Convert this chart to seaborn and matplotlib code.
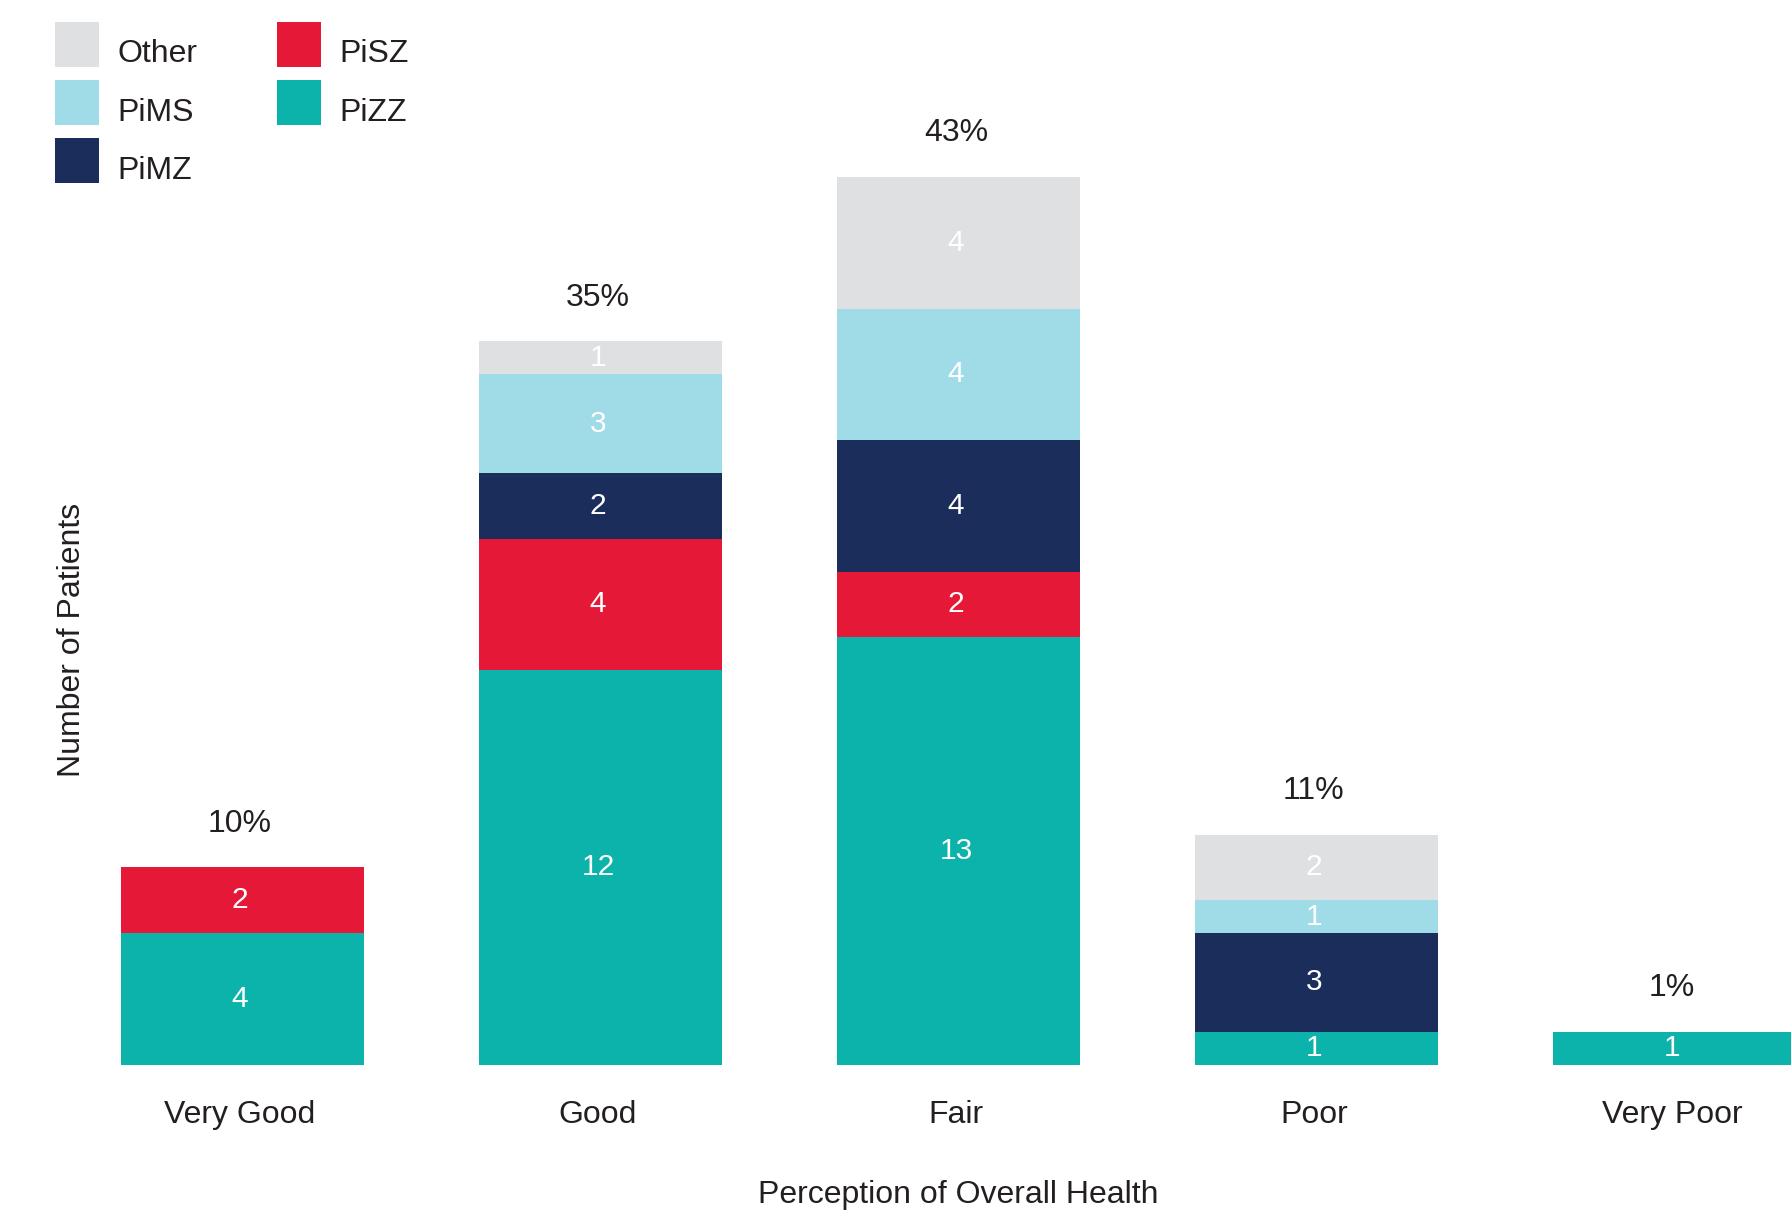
import numpy as np
import pandas as pd
import matplotlib
matplotlib.use("Agg")
import matplotlib.pyplot as plt
import matplotlib.transforms as mtransforms
from matplotlib.patches import Patch, Rectangle
from matplotlib.legend_handler import HandlerPatch
import seaborn as sns

categories = ["Very Good", "Good", "Fair", "Poor", "Very Poor"]
pizz = [4, 12, 13, 1, 1]
pisz = [2, 4, 2, 0, 0]
pimz = [0, 2, 4, 3, 0]
pims = [0, 3, 4, 1, 0]
other = [0, 1, 4, 2, 0]
pct_labels = ["10%", "35%", "43%", "11%", "1%"]

series_names = ["PiZZ", "PiSZ", "PiMZ", "PiMS", "Other"]
series_vals = [pizz, pisz, pimz, pims, other]
colors = {"PiZZ": "#0BB3AA", "PiSZ": "#E51937", "PiMZ": "#1B2D5A",
          "PiMS": "#A0DBE8", "Other": "#DFE0E2"}

sns.set_style("white")
plt.rcParams["font.family"] = ["Liberation Sans", "DejaVu Sans"]

W, H = 1791, 1220
fig = plt.figure(figsize=(W / 100, H / 100), dpi=100)
base_px = 1064.6
unit_px = 32.87
ax = fig.add_axes([0, (H - base_px) / H, 1, base_px / H])

cum = np.cumsum(np.array(series_vals), axis=0)
# draw from top layer down so each lower cumulative bar overlays
for i in range(len(series_names) - 1, -1, -1):
    df = pd.DataFrame({"cat": categories, "val": cum[i]})
    sns.barplot(data=df, x="cat", y="val", order=categories,
                color=colors[series_names[i]], saturation=1, width=0.68,
                linewidth=0, ax=ax)

txt_dx = -2  # points
TXT = "#231F20"

# segment value labels
for i, name in enumerate(series_names):
    for j, v in enumerate(series_vals[i]):
        if v > 0:
            y = cum[i][j] - v / 2
            ax.annotate(str(v), (j, y), xytext=(txt_dx, 0),
                        textcoords="offset points", ha="center", va="center",
                        color="white", fontsize=21.5)

# percentage labels
totals = cum[-1]
for j, lab in enumerate(pct_labels):
    ax.annotate(lab, (j, totals[j]), xytext=(txt_dx, 31.5),
                textcoords="offset points",
                ha="center", va="center", fontsize=23, color=TXT)

c0 = 242.7
step = 358.0
ax.set_xlim(-c0 / step, (W - c0) / step)
ax.set_ylim(0, base_px / unit_px)

for s in ax.spines.values():
    s.set_visible(False)
ax.set_yticks([])
ax.tick_params(axis="x", length=0, pad=25.5, labelsize=23, labelcolor=TXT)
off = mtransforms.ScaledTranslation(txt_dx / 72, 0, fig.dpi_scale_trans)
for lab in ax.get_xticklabels():
    lab.set_transform(lab.get_transform() + off)

ax.set_xlabel("Perception of Overall Health", fontsize=23, color=TXT)
ax.xaxis.set_label_coords((c0 + 2 * step) / W, -(1194.5 - base_px) / base_px)
ax.xaxis.label.set_va("center")
ax.set_ylabel("Number of Patients", fontsize=23, color=TXT)
ax.yaxis.set_label_coords(72 / W, (H - 640 - (H - base_px)) / base_px)
ax.yaxis.label.set_va("center")

fs = 23
hh = 1.79
shift_pt = 5.5


def make_patch(legend, orig_handle, xdescent, ydescent, width, height, fontsize):
    return Rectangle((-xdescent, -ydescent + shift_pt), width, height)


handles = [Patch(facecolor=colors[n], edgecolor="none", label=n)
           for n in ["Other", "PiMS", "PiMZ", "PiSZ", "PiZZ"]]
leg = fig.legend(handles=handles, loc="upper left", ncol=2,
                 bbox_to_anchor=(55 / W, 1 - (22 + shift_pt * 100 / 72) / H),
                 frameon=False,
                 fontsize=fs, handlelength=1.39, handleheight=hh,
                 handletextpad=0.56, labelspacing=0.41, columnspacing=2.49,
                 borderpad=0, borderaxespad=0,
                 handler_map={Patch: HandlerPatch(patch_func=make_patch)})
for t in leg.get_texts():
    t.set_color(TXT)

fig.savefig("out.png", dpi=100)
